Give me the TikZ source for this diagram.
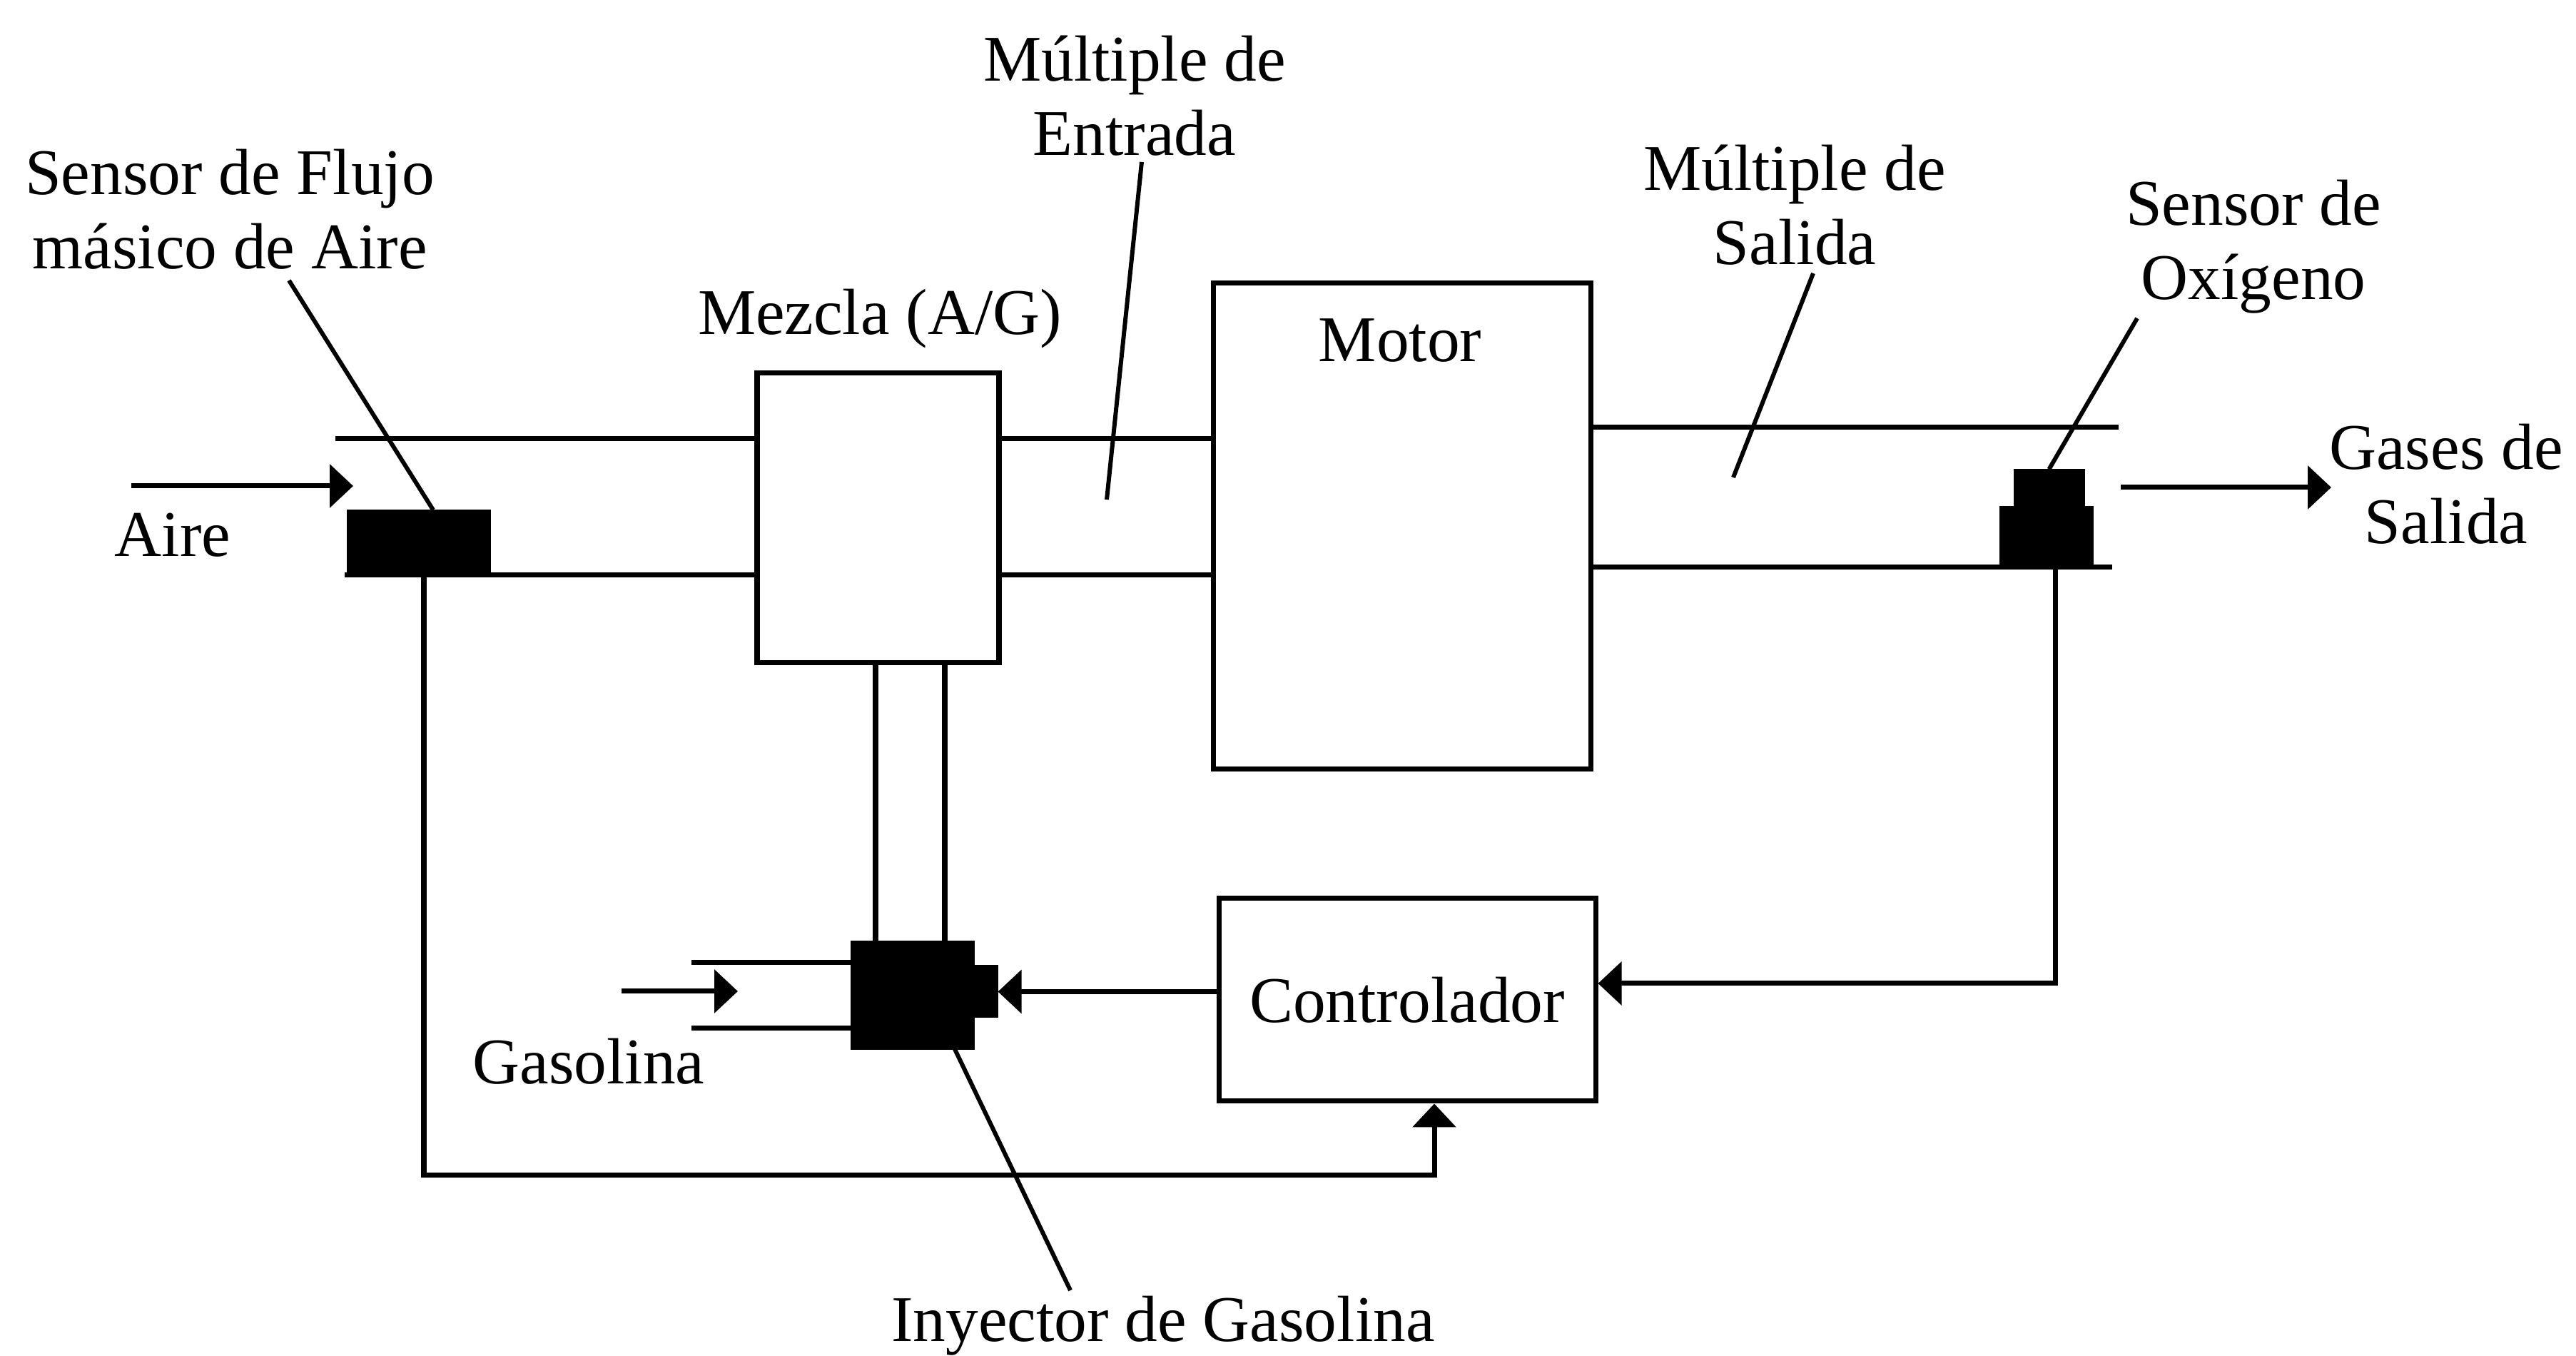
\documentclass[tikz,border=0pt]{standalone}
\usepackage{fontspec}
\setmainfont{Liberation Serif}
\usetikzlibrary{arrows.meta, positioning, calc}

\begin{document}
\begin{tikzpicture}[line width=2pt, >={Triangle[length=3.3mm, width=6mm]},
  every node/.style={font=\fontsize{26}{29.5}\selectfont},
  blk/.style={draw, inner sep=0pt},
  sensorblk/.style={fill=black, draw=black, inner sep=0pt},
  lbl/.style={align=center, inner sep=0pt},
  leader/.style={line width=1.7pt}]
\useasboundingbox (0,0) rectangle (36.1,19);
\node[blk, minimum width=3.39cm, minimum height=4.06cm] (mix) at (12.305,11.74) {};
\node[blk, minimum width=5.29cm, minimum height=6.81cm] (motor) at (19.645,11.625) {};
\node (motorlbl) at (19.62,14.23) {Motor};
\node[blk, minimum width=5.28cm, minimum height=2.84cm] (ctrl) at (19.72,4.99) {Controlador};
\node[sensorblk, minimum width=1.94cm, minimum height=0.88cm] (maf) at (5.87,11.38) {};
\node[sensorblk, minimum width=0.93cm, minimum height=0.46cm] (oxtop) at (28.715,12.16) {};
\node[sensorblk, minimum width=1.25cm, minimum height=0.81cm] (oxbot) at (28.675,11.465) {};
\node[sensorblk, minimum width=1.66cm, minimum height=1.46cm] (inj) at (12.79,5.05) {};
\node[sensorblk, minimum width=0.33cm, minimum height=0.67cm] (injnub) at (13.785,5.105) {};

\node[lbl] (flujo) at (3.22,16.07) {Sensor de Flujo\\másico de Aire};
\node (aire) at (2.42,11.50) {Aire};
\node (mezcla) at (12.33,14.53) {Mezcla (A/G)};
\node[lbl] (entrada) at (15.9,17.66) {Múltiple de\\Entrada};
\node[lbl] (salida) at (25.15,16.13) {Múltiple de\\Salida};
\node[lbl] (oxig) at (31.58,15.54) {Sensor de\\Oxígeno};
\node[lbl] (gases) at (34.28,12.22) {Gases de\\Salida};
\node (gasolina) at (8.25,4.13) {Gasolina};
\node (inyector) at (16.3,0.42) {Inyector de Gasolina};

\coordinate (inTop) at (4.70,12.85);
\coordinate (inBot) at (4.83,10.94);
\coordinate (exTop) at (29.69,13.01);
\coordinate (exBot) at (29.60,11.05);
\draw (inTop) -- (inTop -| mix.west);
\draw (inBot) -- (inBot -| mix.west);
\draw (mix.east |- inTop) -- (motor.west |- inTop);
\draw (mix.east |- inBot) -- (motor.west |- inBot);
\draw (motor.east |- exTop) -- (exTop);
\draw (motor.east |- exBot) -- (exBot);
\draw (12.27,0 |- mix.south) -- (12.27,0 |- inj.north);
\draw (13.24,0 |- mix.south) -- (13.24,0 |- inj.north);
\coordinate (fuelTop) at (9.69,5.51);
\coordinate (fuelBot) at (9.69,4.59);
\draw (fuelTop) -- (fuelTop -| inj.west);
\draw (fuelBot) -- (fuelBot -| inj.west);

\coordinate (aireIn) at (1.84,12.19);
\coordinate (aireOut) at (4.95,12.19);
\draw[->] (aireIn) -- (aireOut);
\coordinate (fuelIn) at (8.71,5.11);
\coordinate (fuelOut) at (10.34,5.11);
\draw[->] (fuelIn) -- (fuelOut);
\coordinate (gasIn) at (29.72,12.17);
\coordinate (gasOut) at (32.67,12.17);
\draw[->] (gasIn) -- (gasOut);

\draw[->] (ctrl.west |- injnub) -- (injnub.east);
\coordinate (oxdrop) at (28.80,5.22);
\draw[->] (oxdrop |- oxbot.south) -- (oxdrop) -- (oxdrop -| ctrl.east);
\coordinate (mafdrop) at (5.94,2.53);
\coordinate (ctrlin) at (20.10,2.53);
\draw[->] (mafdrop |- maf.south) -- (mafdrop) -- (ctrlin) -- (ctrlin |- ctrl.south);

\coordinate (flujoEnd) at (4.05,15.07);
\coordinate (entradaEnd) at (16.0,16.73);
\coordinate (salidaEnd) at (25.41,15.17);
\coordinate (oxigEnd) at (29.95,14.54);
\coordinate (inyEnd) at (15.00,0.92);
\draw[leader] (flujoEnd) -- (6.07,0 |- maf.north);
\draw[leader] (entradaEnd) -- (15.51,12.0);
\draw[leader] (salidaEnd) -- (24.29,12.31);
\draw[leader] (oxigEnd) -- (oxtop.north);
\draw[leader] (inyEnd) -- (13.38,4.30);
\end{tikzpicture}
\end{document}
